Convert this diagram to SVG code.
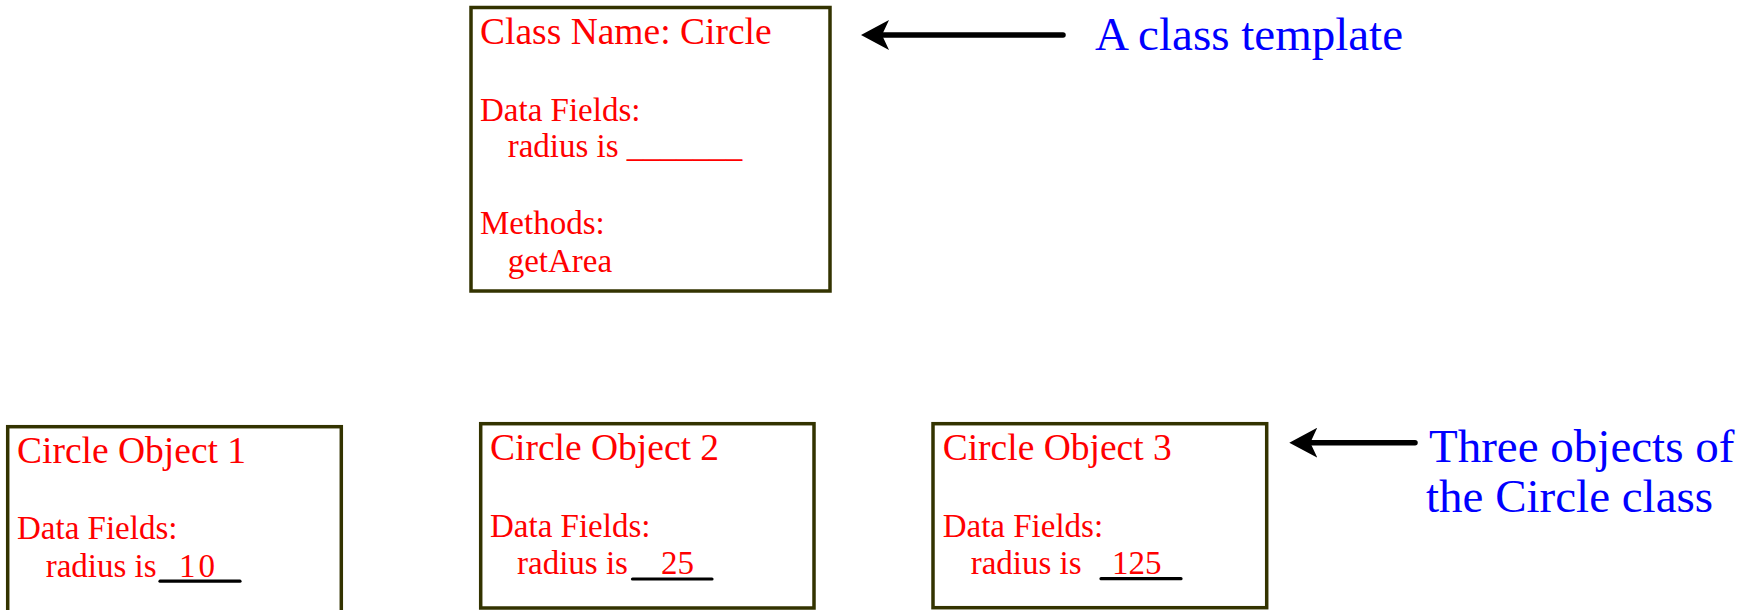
<svg xmlns="http://www.w3.org/2000/svg" width="1754" height="610" viewBox="0 0 1754 610">
<style>
text{font-family:"Liberation Serif","Times New Roman",serif}
.box{fill:#fff;stroke:#333300;stroke-width:3.5}
.title{fill:#ff0000;font-size:37.5px}
.body{fill:#ff0000;font-size:33px}
.note{fill:#0000ff;font-size:47px}
.ul{stroke:#000;stroke-width:3.2;stroke-linecap:round}
.conn{stroke:#000;stroke-width:5.5;stroke-linecap:round;fill:none}
</style>
<defs>
<marker id="ah" markerUnits="userSpaceOnUse" viewBox="0 0 28 30" markerWidth="28" markerHeight="30" refX="18" refY="15" orient="auto">
<path d="M28,15 L0,0 L7,15 L0,30 Z" fill="#000"/>
</marker>
</defs>
<rect width="1754" height="610" fill="#fff"/>
<g id="class-circle">
<rect class="box" x="471" y="7.5" width="359" height="283.5"/>
<text class="title" x="480" y="43.5">Class Name: Circle</text>
<text class="body" x="480" y="120.7">Data Fields:</text>
<text class="body" x="507.7" y="157">radius is _______</text>
<text class="body" x="480" y="234.3">Methods:</text>
<text class="body" x="507.7" y="271.5">getArea</text>
</g>
<g id="object1">
<rect class="box" x="7.7" y="426.7" width="333.6" height="190"/>
<text class="title" x="17" y="462.7">Circle Object 1</text>
<text class="body" x="17" y="539">Data Fields:</text>
<text class="body" x="45.7" y="576.7">radius is</text>
<line class="ul" x1="160" y1="581.2" x2="240" y2="581.2"/>
<text class="body" x="179" y="576.7" font-size="36" letter-spacing="3">10</text>
</g>
<g id="object2">
<rect class="box" x="480.7" y="423.7" width="333.3" height="184.3"/>
<text class="title" x="490" y="460">Circle Object 2</text>
<text class="body" x="490" y="536.7">Data Fields:</text>
<text class="body" x="517" y="574">radius is</text>
<line class="ul" x1="632.5" y1="579" x2="712" y2="579"/>
<text class="body" x="661" y="574">25</text>
</g>
<g id="object3">
<rect class="box" x="933" y="423.7" width="333.7" height="184"/>
<text class="title" x="942.7" y="460">Circle Object 3</text>
<text class="body" x="942.7" y="536.7">Data Fields:</text>
<text class="body" x="970.7" y="574">radius is</text>
<line class="ul" x1="1101" y1="578.7" x2="1181" y2="578.7"/>
<text class="body" x="1112" y="574">125</text>
</g>
<g id="label-template">
<text class="note" x="1095" y="50">A class template</text>
</g>
<g id="label-objects">
<text class="note" x="1429" y="461.7">Three objects of</text>
<text class="note" x="1426" y="511.7">the Circle class</text>
</g>
<g id="connectors">
<line class="conn" x1="1063" y1="35" x2="871" y2="35" marker-end="url(#ah)"/>
<line class="conn" x1="1415" y1="442.7" x2="1299.3" y2="442.7" marker-end="url(#ah)"/>
</g>
</svg>
